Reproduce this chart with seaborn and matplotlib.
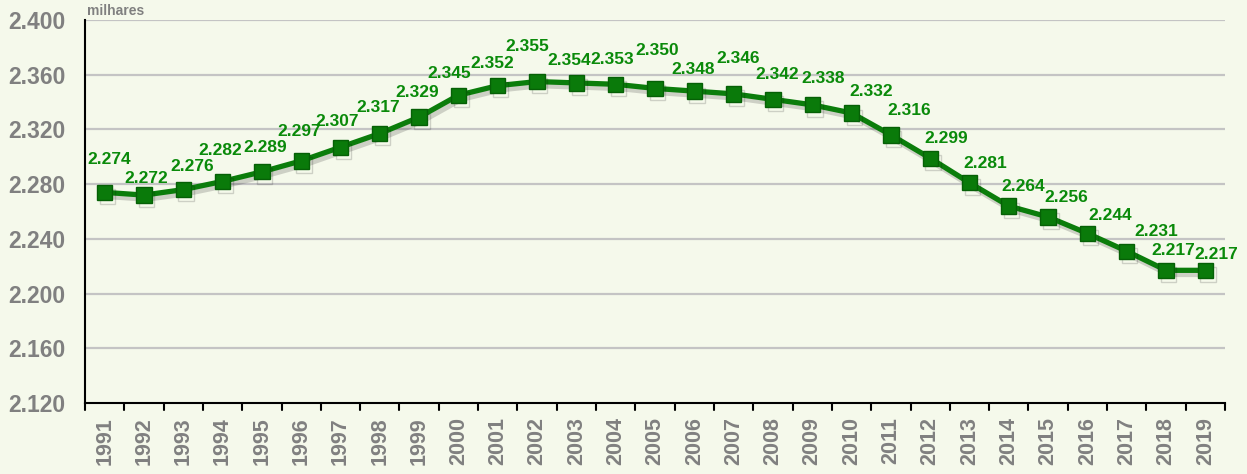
import matplotlib
matplotlib.use("Agg")
import matplotlib.pyplot as plt
import matplotlib.patheffects as pe
import seaborn as sns
import pandas as pd

years = [str(y) for y in range(1991, 2020)]
values = [2.274, 2.272, 2.276, 2.282, 2.289, 2.297, 2.307, 2.317, 2.329, 2.345,
          2.352, 2.355, 2.354, 2.353, 2.350, 2.348, 2.346, 2.342, 2.338, 2.332,
          2.316, 2.299, 2.281, 2.264, 2.256, 2.244, 2.231, 2.217, 2.217]
y_ticks = [2.120, 2.160, 2.200, 2.240, 2.280, 2.320, 2.360, 2.400]

# value-label placement relative to each marker (pixels), staggered to avoid collisions
label_dx = [5, 2, 9, -2, 3, -2, -3, -2, -2, -9,
            -6, -10, -7, -4, 2, -1, 5, 4, 11, 20,
            18, 16, 16, 14, 18, 23, 30, 7, 11]
label_dy = [33, 17, 23, 31, 24, 29, 26, 26, 25, 22,
            22, 35, 22, 25, 38, 22, 35, 25, 26, 22,
            24, 20, 19, 20, 19, 18, 20, 20, 16]

df = pd.DataFrame({"year": years, "value": values})

bg = "#f5f9eb"
green_line = "#0b7d0b"
green_text = "#0a8a0a"
grey = "#808080"

sns.set_theme(style="white")
plt.rcParams["font.family"] = ["Liberation Sans", "DejaVu Sans"]

fig = plt.figure(figsize=(12.47, 4.74), dpi=100, facecolor=bg)
ax = fig.add_axes([85 / 1247, 1 - 403 / 474, (1225 - 85) / 1247, (403 - 20) / 474])
ax.set_facecolor(bg)

for t in y_ticks[1:]:
    ax.axhline(t, color="#c4c4c4", lw=1.6, zorder=0)

shadow = [pe.SimpleLineShadow(offset=(2, -3), shadow_color="black", alpha=0.16),
          pe.Normal()]
sns.lineplot(data=df, x="year", y="value", ax=ax, color=green_line, lw=3.8,
             marker="s", markersize=11, markerfacecolor="#0a7a0a",
             markeredgecolor="#066006", markeredgewidth=1, sort=False,
             path_effects=shadow, zorder=3)

for i, (v, dx, dy) in enumerate(zip(values, label_dx, label_dy)):
    ax.annotate(f"{v:.3f}", (i, v), xytext=(dx, dy), textcoords="offset pixels",
                ha="center", va="center", fontsize=12.5, fontweight="bold",
                color=green_text, zorder=4)

ax.set_xlim(-0.5, len(years) - 0.5)
ax.set_ylim(2.120, 2.400)
ax.set_yticks(y_ticks)
ax.set_yticklabels([f"{t:.3f}" for t in y_ticks], fontsize=16.5, fontweight="bold", color=grey)
ax.set_xticks(range(len(years)))
ax.set_xticklabels(years, rotation=90, fontsize=15.5, fontweight="bold", color=grey)
ax.tick_params(axis="x", length=0, pad=10)
ax.tick_params(axis="y", length=0, pad=14)

# boundary ticks between categories
for b in [k - 0.5 for k in range(len(years) + 1)]:
    ax.plot([b, b], [0, -0.018], transform=ax.get_xaxis_transform(),
            color="black", lw=1.5, clip_on=False)

ax.set_xlabel("")
ax.set_ylabel("")
for s in ["top", "right"]:
    ax.spines[s].set_visible(False)
for s in ["left", "bottom"]:
    ax.spines[s].set_color("black")
    ax.spines[s].set_linewidth(1.5)

ax.text(0.002, 1.005, "milhares", transform=ax.transAxes, ha="left", va="bottom",
        fontsize=10, fontweight="bold", color=grey)

fig.savefig("out.png", dpi=100, facecolor=bg)
